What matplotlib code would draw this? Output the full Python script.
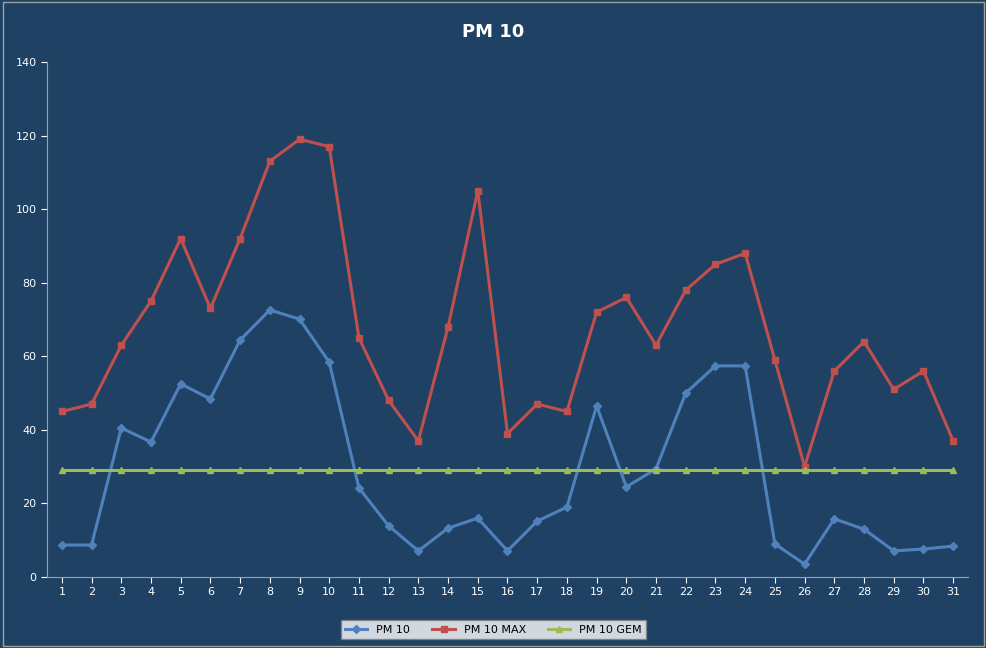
import matplotlib
matplotlib.use("Agg")
import matplotlib.pyplot as plt

days = list(range(1, 32))
pm10 = [8.7, 8.7, 40.5, 36.7, 52.5, 48.4, 64.4, 72.6, 70.1, 58.4, 24.2, 13.9, 7.1, 13.3, 16.0, 7.1,
        15.2, 19.0, 46.5, 24.5, 29.4, 50.0, 57.4, 57.4, 9.0, 3.5, 15.8, 13.0, 7.1, 7.6, 8.4]
pm10_max = [45, 47, 63, 75, 92, 73, 92, 113, 119, 117, 65, 48, 37, 68, 105, 39, 47, 45, 72, 76, 63,
            78, 85, 88, 59, 30, 56, 64, 51, 56, 37]
pm10_gem = [29] * 31

bg = "#1F4164"
fig = plt.figure(figsize=(9.87, 6.48), dpi=100, facecolor=bg)
ax = fig.add_axes([47/987, 1-577/648, (968-47)/987, (577-62)/648])
ax.set_facecolor(bg)
ax.plot(days, pm10, color="#4F81BD", marker="D", ms=4, lw=2.2, label="PM 10")
ax.plot(days, pm10_max, color="#C0504D", marker="s", ms=5, lw=2.2, label="PM 10 MAX")
ax.plot(days, pm10_gem, color="#9BBB59", marker="^", ms=5, lw=2.2, label="PM 10 GEM")
ax.set_xlim(0.5, 31.5)
ax.set_ylim(0, 140)
ax.set_yticks(range(0, 141, 20))
ax.set_xticks(days)
ax.tick_params(colors="white", labelsize=8, length=4)
for s in ["top", "right"]:
    ax.spines[s].set_visible(False)
for s in ["left", "bottom"]:
    ax.spines[s].set_color("#A0A0A0")
fig.suptitle("PM 10", color="white", fontsize=13, fontweight="bold", y=0.965)
leg = fig.legend(loc="lower center", bbox_to_anchor=(0.5, 0.005), ncol=3, fontsize=8,
                 frameon=True, fancybox=False, facecolor="white", edgecolor="#808080")
fig.patches.append(plt.Rectangle((0.003, 0.003), 0.994, 0.994, transform=fig.transFigure,
                                 fill=False, edgecolor="#A0A0A0", lw=1))
fig.savefig("out.png", dpi=100, facecolor=bg)
